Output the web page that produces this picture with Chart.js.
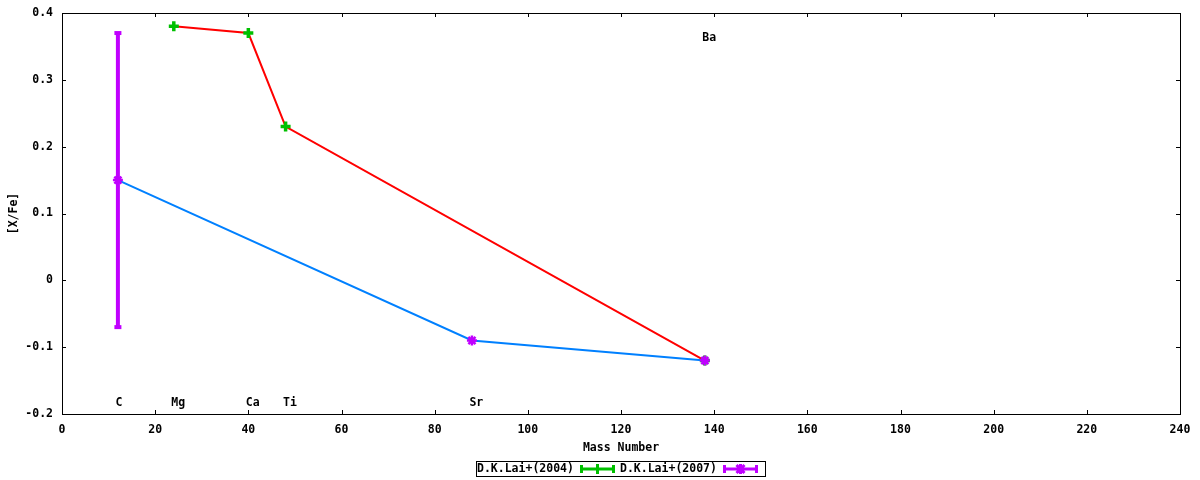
<!DOCTYPE html>
<html><head><meta charset="utf-8">
<script src="https://cdn.jsdelivr.net/npm/chart.js@4"></script>
<style>html,body{margin:0;padding:0;background:#fff}#wrap{width:1200px;height:480px}</style>
</head><body><div id="wrap"><canvas id="c" width="1200" height="480"></canvas></div>
<script>
// ---- data ----
const lai2004Label = "D.K.Lai+(2004)";
const lai2004Mass = [24, 40, 48, 138];
const lai2004Val  = [0.38, 0.37, 0.23, -0.12];

const lai2007Label = "D.K.Lai+(2007)";
const lai2007Mass = [12, 88, 138];
const lai2007Val  = [0.15, -0.09, -0.12];
const lai2007Err  = [0.22, 0, 0];

const elemNames = ["C", "Mg", "Ca", "Ti", "Sr", "Ba"];
const elemMass  = [12, 24, 40, 48, 88, 138];
const elemLabelY = [-0.184, -0.184, -0.184, -0.184, -0.184, 0.363];

const xTickStep = 20, xMin = 0, xMax = 240;
const yTickStep = 0.1, yMin = -0.2, yMax = 0.4;

const FONT = 'bold 11.5px "DejaVu Sans Mono", "Liberation Mono", monospace';
const TICKFONT = {family: '"DejaVu Sans Mono"', size: 11.5, weight: 'bold'};
const GREEN = '#00c000', RED = '#ff0000', PURPLE = '#c000ff', BLUE = '#0080ff';

const pts = (xs, ys) => xs.map((x, i) => ({x, y: ys[i]}));
const errPts = [];
lai2007Mass.forEach((m, i) => {
  if (lai2007Err[i] > 0) {
    errPts.push({x: m, y: lai2007Val[i] + lai2007Err[i]});
    errPts.push({x: m, y: lai2007Val[i] - lai2007Err[i]});
  }
});

const AREA = {left: 62, right: 1180, top: 13, bottom: 414};

const framePlugin = {
  id: 'frame',
  afterLayout(chart) {
    const a = chart.chartArea, xs = chart.scales.x, ys = chart.scales.y;
    a.left = AREA.left; a.right = AREA.right; a.top = AREA.top; a.bottom = AREA.bottom;
    a.width = a.right - a.left; a.height = a.bottom - a.top;
    const xh = xs.bottom - xs.top;
    xs.left = AREA.left; xs.right = AREA.right; xs.width = AREA.right - AREA.left;
    xs.top = AREA.bottom; xs.bottom = AREA.bottom + xh;
    ys.top = AREA.top; ys.bottom = AREA.bottom; ys.height = AREA.bottom - AREA.top;
    ys.right = AREA.left; ys.left = 0; ys.width = AREA.left;
    xs.configure(); ys.configure();
  },
  afterDraw(chart) {
    const ctx = chart.ctx, a = chart.chartArea;
    const xs = chart.scales.x, ys = chart.scales.y;
    ctx.save();
    ctx.strokeStyle = '#000'; ctx.lineWidth = 1;
    ctx.strokeRect(Math.round(a.left) + 0.5, Math.round(a.top) + 0.5,
      Math.round(a.right - a.left), Math.round(a.bottom - a.top));
    ctx.beginPath();
    xs.ticks.forEach(t => {
      const px = Math.round(xs.getPixelForValue(t.value)) + 0.5;
      ctx.moveTo(px, a.bottom); ctx.lineTo(px, a.bottom - 4);
      ctx.moveTo(px, a.top); ctx.lineTo(px, a.top + 4);
    });
    ys.ticks.forEach(t => {
      const py = Math.round(ys.getPixelForValue(t.value)) + 0.5;
      ctx.moveTo(a.left, py); ctx.lineTo(a.left + 4, py);
      ctx.moveTo(a.right, py); ctx.lineTo(a.right - 4, py);
    });
    ctx.stroke();
    // element labels
    ctx.fillStyle = '#000'; ctx.font = FONT;
    ctx.textAlign = 'left'; ctx.textBaseline = 'middle';
    elemNames.forEach((n, i) => {
      ctx.fillText(n, xs.getPixelForValue(elemMass[i]) - 2.5, ys.getPixelForValue(elemLabelY[i]));
    });
    // legend
    const lx = 476, ly = 461, lw = 289, lh = 15;
    ctx.strokeRect(lx + 0.5, ly + 0.5, lw, lh);
    const cy = ly + lh / 2 + 0.5;
    const drawSample = (x0, x1, color, star) => {
      ctx.strokeStyle = color; ctx.lineWidth = 3;
      ctx.beginPath();
      ctx.moveTo(x0, cy); ctx.lineTo(x1, cy);
      ctx.moveTo(x0 + 1.5, cy - 4); ctx.lineTo(x0 + 1.5, cy + 4);
      ctx.moveTo(x1 - 1.5, cy - 4); ctx.lineTo(x1 - 1.5, cy + 4);
      const mx = (x0 + x1) / 2;
      ctx.moveTo(mx, cy - 5); ctx.lineTo(mx, cy + 5);
      if (star) {
        ctx.moveTo(mx - 4, cy - 4); ctx.lineTo(mx + 4, cy + 4);
        ctx.moveTo(mx - 4, cy + 4); ctx.lineTo(mx + 4, cy - 4);
      }
      ctx.stroke();
    };
    ctx.fillStyle = '#000';
    ctx.fillText(lai2004Label, 477, cy);
    drawSample(580, 615, GREEN, false);
    ctx.fillStyle = '#000';
    ctx.fillText(lai2007Label, 620, cy);
    drawSample(723, 758, PURPLE, true);
    ctx.restore();
  }
};

new Chart(document.getElementById('c'), {
  type: 'scatter',
  data: {
    datasets: [
      {
        label: lai2007Label, data: pts(lai2007Mass, lai2007Val), showLine: true,
        borderColor: BLUE, borderWidth: 2, pointStyle: 'star', pointRadius: 5,
        pointBorderColor: PURPLE, pointBackgroundColor: PURPLE, pointBorderWidth: 2.5, order: 0
      },
      {
        label: lai2004Label, data: pts(lai2004Mass, lai2004Val), showLine: true,
        borderColor: RED, borderWidth: 2, pointStyle: 'cross', pointRadius: 5,
        pointBorderColor: GREEN, pointBackgroundColor: GREEN, pointBorderWidth: 3.5, order: 1
      },
      {
        label: 'err', data: errPts, showLine: true,
        borderColor: PURPLE, borderWidth: 4, pointStyle: 'line', pointRadius: 3.5,
        pointBorderColor: PURPLE, pointBorderWidth: 4, order: 2
      }
    ]
  },
  options: {
    responsive: false, animation: false, devicePixelRatio: 1,
    layout: {padding: {left: 0, right: 20, top: 11, bottom: 24}},
    plugins: {legend: {display: false}, tooltip: {enabled: false}},
    scales: {
      x: {
        type: 'linear', min: xMin, max: xMax,
        ticks: {stepSize: xTickStep, color: '#000', font: TICKFONT, padding: 9, maxRotation: 0},
        grid: {display: false, drawTicks: false}, border: {display: false},
        title: {display: true, text: 'Mass Number', color: '#000', font: TICKFONT, padding: {top: 4, bottom: 1}},
        afterFit: s => { s.height = 42; }
      },
      y: {
        type: 'linear', min: yMin, max: yMax,
        ticks: {stepSize: yTickStep, color: '#000', font: TICKFONT, padding: 9,
          callback: v => String(+v.toFixed(1))},
        grid: {display: false, drawTicks: false}, border: {display: false},
        title: {display: true, text: '[X/Fe]', color: '#000', font: TICKFONT, padding: {top: 7, bottom: 0}},
        afterFit: s => { s.width = 62; }
      }
    }
  },
  plugins: [framePlugin]
});
</script></body></html>
